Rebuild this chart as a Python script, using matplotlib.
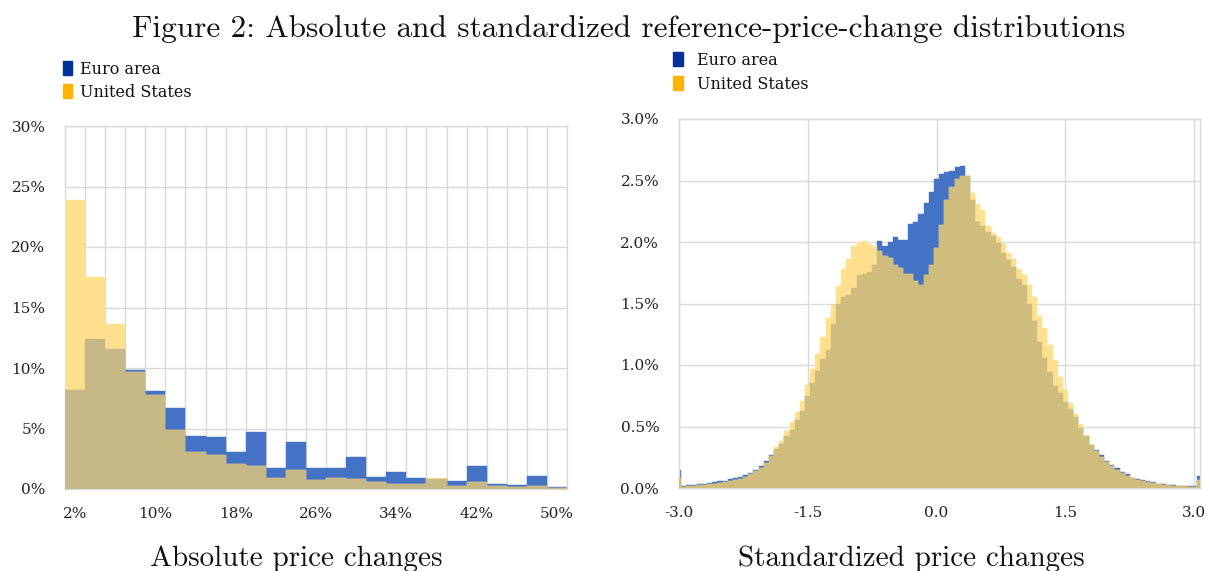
import numpy as np
import matplotlib
matplotlib.use("Agg")
import matplotlib.pyplot as plt
from matplotlib.patches import Rectangle

# ---------------- data ----------------
# Left panel: absolute price changes (bins of 2 percentage points)
abs_bins = [2, 4, 6, 8, 10, 12, 14, 16, 18, 20, 22, 24, 26, 28, 30,
            32, 34, 36, 38, 40, 42, 44, 46, 48, 50]
abs_ea = [8.19, 12.39, 11.6, 9.8, 8.1, 6.68, 4.42, 4.31, 3.02, 4.75, 1.76, 3.85, 1.76,
          1.76, 2.61, 0.99, 1.4, 0.93, 0.85, 0.63, 1.92, 0.41, 0.33, 1.07, 0.19]
abs_us = [23.9, 17.5, 13.6, 9.7, 7.8, 4.9, 3.05, 2.77, 2.06, 1.92, 0.9, 1.57, 0.71,
          0.9, 0.85, 0.55, 0.44, 0.44, 0.88, 0.27, 0.55, 0.22, 0.16, 0.22, 0.11]
abs_tick_labels = ["2%", "10%", "18%", "26%", "34%", "42%", "50%"]
abs_tick_pos = [2, 10, 18, 26, 34, 42, 50]

# Right panel: standardized price changes (bins of 0.06 std, first/last = tails)
std_centers = np.round(np.arange(-3.0, 3.07, 0.06), 2)
std_ea = [0.15, 0.02, 0.022, 0.025, 0.03, 0.034, 0.04, 0.046, 0.053, 0.06,
          0.07, 0.08, 0.09, 0.105, 0.125, 0.15, 0.18, 0.22, 0.27, 0.32,
          0.36, 0.42, 0.47, 0.55, 0.63, 0.75, 0.85, 0.95, 1.05, 1.12,
          1.33, 1.50, 1.55, 1.57, 1.63, 1.73, 1.74, 1.76, 1.81, 2.01,
          1.97, 2.00, 2.04, 2.02, 2.02, 2.15, 2.16, 2.23, 2.32, 2.41,
          2.51, 2.55, 2.57, 2.58, 2.61, 2.62, 2.54, 2.34, 2.16, 2.13,
          2.08, 2.05, 1.99, 1.91, 1.85, 1.80, 1.70, 1.65, 1.50, 1.36,
          1.19, 1.06, 0.94, 0.83, 0.77, 0.70, 0.64, 0.58, 0.49, 0.42,
          0.35, 0.31, 0.27, 0.22, 0.19, 0.16, 0.13, 0.11, 0.085, 0.074,
          0.063, 0.053, 0.045, 0.036, 0.031, 0.025, 0.023, 0.02, 0.017, 0.015,
          0.015, 0.095]
std_us = [0.08, 0.012, 0.015, 0.018, 0.022, 0.026, 0.03, 0.036, 0.042, 0.05,
          0.058, 0.066, 0.076, 0.09, 0.11, 0.135, 0.165, 0.2, 0.26, 0.33,
          0.38, 0.46, 0.54, 0.62, 0.71, 0.84, 0.97, 1.09, 1.23, 1.38,
          1.49, 1.64, 1.78, 1.86, 1.97, 2.00, 2.01, 1.98, 1.97, 1.93,
          1.89, 1.87, 1.81, 1.79, 1.74, 1.74, 1.68, 1.65, 1.73, 1.81,
          1.95, 2.14, 2.34, 2.45, 2.51, 2.54, 2.54, 2.40, 2.31, 2.26,
          2.13, 2.07, 2.04, 1.98, 1.91, 1.86, 1.78, 1.73, 1.65, 1.55,
          1.40, 1.30, 1.16, 1.04, 0.90, 0.80, 0.69, 0.60, 0.52, 0.43,
          0.36, 0.30, 0.25, 0.21, 0.18, 0.15, 0.12, 0.10, 0.08, 0.068,
          0.057, 0.048, 0.04, 0.032, 0.027, 0.022, 0.019, 0.016, 0.013, 0.011,
          0.01, 0.063]
std_xticks = [-3.0, -1.5, 0.0, 1.5, 3.0]
std_xtick_labels = ["-3.0", "-1.5", "0.0", "1.5", "3.0"]

title = "Figure 2: Absolute and standardized reference-price-change distributions"
sub_left = "Absolute price changes"
sub_right = "Standardized price changes"
series_names = ["Euro area", "United States"]

# ---------------- style ----------------
BLUE = "#4472C4"
YELLOW = "#FEE08F"
TAN_L = "#C6B985"
TAN_R = "#CEBD7D"
LEG_BLUE = "#003299"
LEG_YELLOW = "#FFB400"
GRID = "#D9D9D9"
TICKFONT = "DejaVu Serif"
BIGFONT = "cmr10"

W, H = 1209, 571
fig = plt.figure(figsize=(W / 100, H / 100), dpi=100)


def fx(px):
    return px / W


def fy(py):
    return 1 - py / H


def overlay_bars(ax, x, ea, us, width, tan):
    ea = np.asarray(ea)
    us = np.asarray(us)
    ov = np.minimum(ea, us)
    ax.bar(x, ea, width=width, color=BLUE, edgecolor=BLUE, linewidth=0.3, zorder=2)
    ax.bar(x, us, width=width, color=YELLOW, edgecolor=YELLOW, linewidth=0.3, zorder=3)
    ax.bar(x, ov, width=width, color=tan, edgecolor=tan, linewidth=0.3, zorder=4)


def style_axes(ax):
    for s in ax.spines.values():
        s.set_color(GRID)
        s.set_linewidth(1.0)
    ax.tick_params(length=0, labelsize=11)
    for lab in ax.get_xticklabels() + ax.get_yticklabels():
        lab.set_fontfamily(TICKFONT)
        lab.set_color("#222222")


# ---- left axes ----
axL = fig.add_axes([fx(65), fy(489), fx(567) - fx(65), fy(126) - fy(489)])
overlay_bars(axL, abs_bins, abs_ea, abs_us, 2.0, TAN_L)
axL.set_xlim(1, 51)
axL.set_ylim(0, 30)
axL.set_yticks([0, 5, 10, 15, 20, 25, 30])
axL.set_yticklabels([f"{v}%" for v in [0, 5, 10, 15, 20, 25, 30]])
axL.set_xticks(abs_tick_pos)
axL.set_xticklabels(abs_tick_labels)
for e in np.arange(1, 52, 2):
    axL.axvline(e, color=GRID, lw=1.0, zorder=0)
for v in [5, 10, 15, 20, 25, 30]:
    axL.axhline(v, color=GRID, lw=1.0, zorder=0)
style_axes(axL)
axL.tick_params(axis="y", pad=14)
axL.tick_params(axis="x", pad=13)

# ---- right axes ----
axR = fig.add_axes([fx(678.7), fy(488), fx(1200) - fx(678.7), fy(119) - fy(488)])
overlay_bars(axR, std_centers, std_ea, std_us, 0.06, TAN_R)
axR.set_xlim(-3.0, 3.066)
axR.set_ylim(0, 3.0)
yt = [0.0, 0.5, 1.0, 1.5, 2.0, 2.5, 3.0]
axR.set_yticks(yt)
axR.set_yticklabels([f"{v:.1f}%" for v in yt])
axR.set_xticks(std_xticks)
axR.set_xticklabels(std_xtick_labels)
for v in std_xticks:
    axR.axvline(v, color=GRID, lw=1.0, zorder=0)
for v in yt[1:]:
    axR.axhline(v, color=GRID, lw=1.0, zorder=0)
style_axes(axR)
axR.tick_params(axis="y", pad=14)
axR.tick_params(axis="x", pad=13)

# ---- title and subtitles ----
fig.text(0.5 * (fx(132) + fx(1125)), fy(37), title, ha="center", va="baseline",
         fontsize=22.5, family=BIGFONT, color="#111111")
fig.text(fx(296), fy(566), sub_left, ha="center", va="baseline",
         fontsize=21, family=BIGFONT, color="#111111")
fig.text(fx(911), fy(566), sub_right, ha="center", va="baseline",
         fontsize=21, family=BIGFONT, color="#111111")

# ---- legends ----
def legend(x_patch, w_patch, x_text, ys, h_patch):
    for (yc, col, name) in zip(ys, [LEG_BLUE, LEG_YELLOW], series_names):
        fig.patches.append(Rectangle((fx(x_patch), fy(yc + h_patch / 2)),
                                     w_patch / W, h_patch / H,
                                     transform=fig.transFigure, color=col))
        fig.text(fx(x_text), fy(yc + 1.5), name, ha="left", va="center",
                 fontsize=11.5, family=TICKFONT, color="#111111")


legend(63, 8.5, 80, [68, 91], 14)
legend(673, 10, 697, [59, 83], 14)

fig.savefig("out.png", dpi=100)
